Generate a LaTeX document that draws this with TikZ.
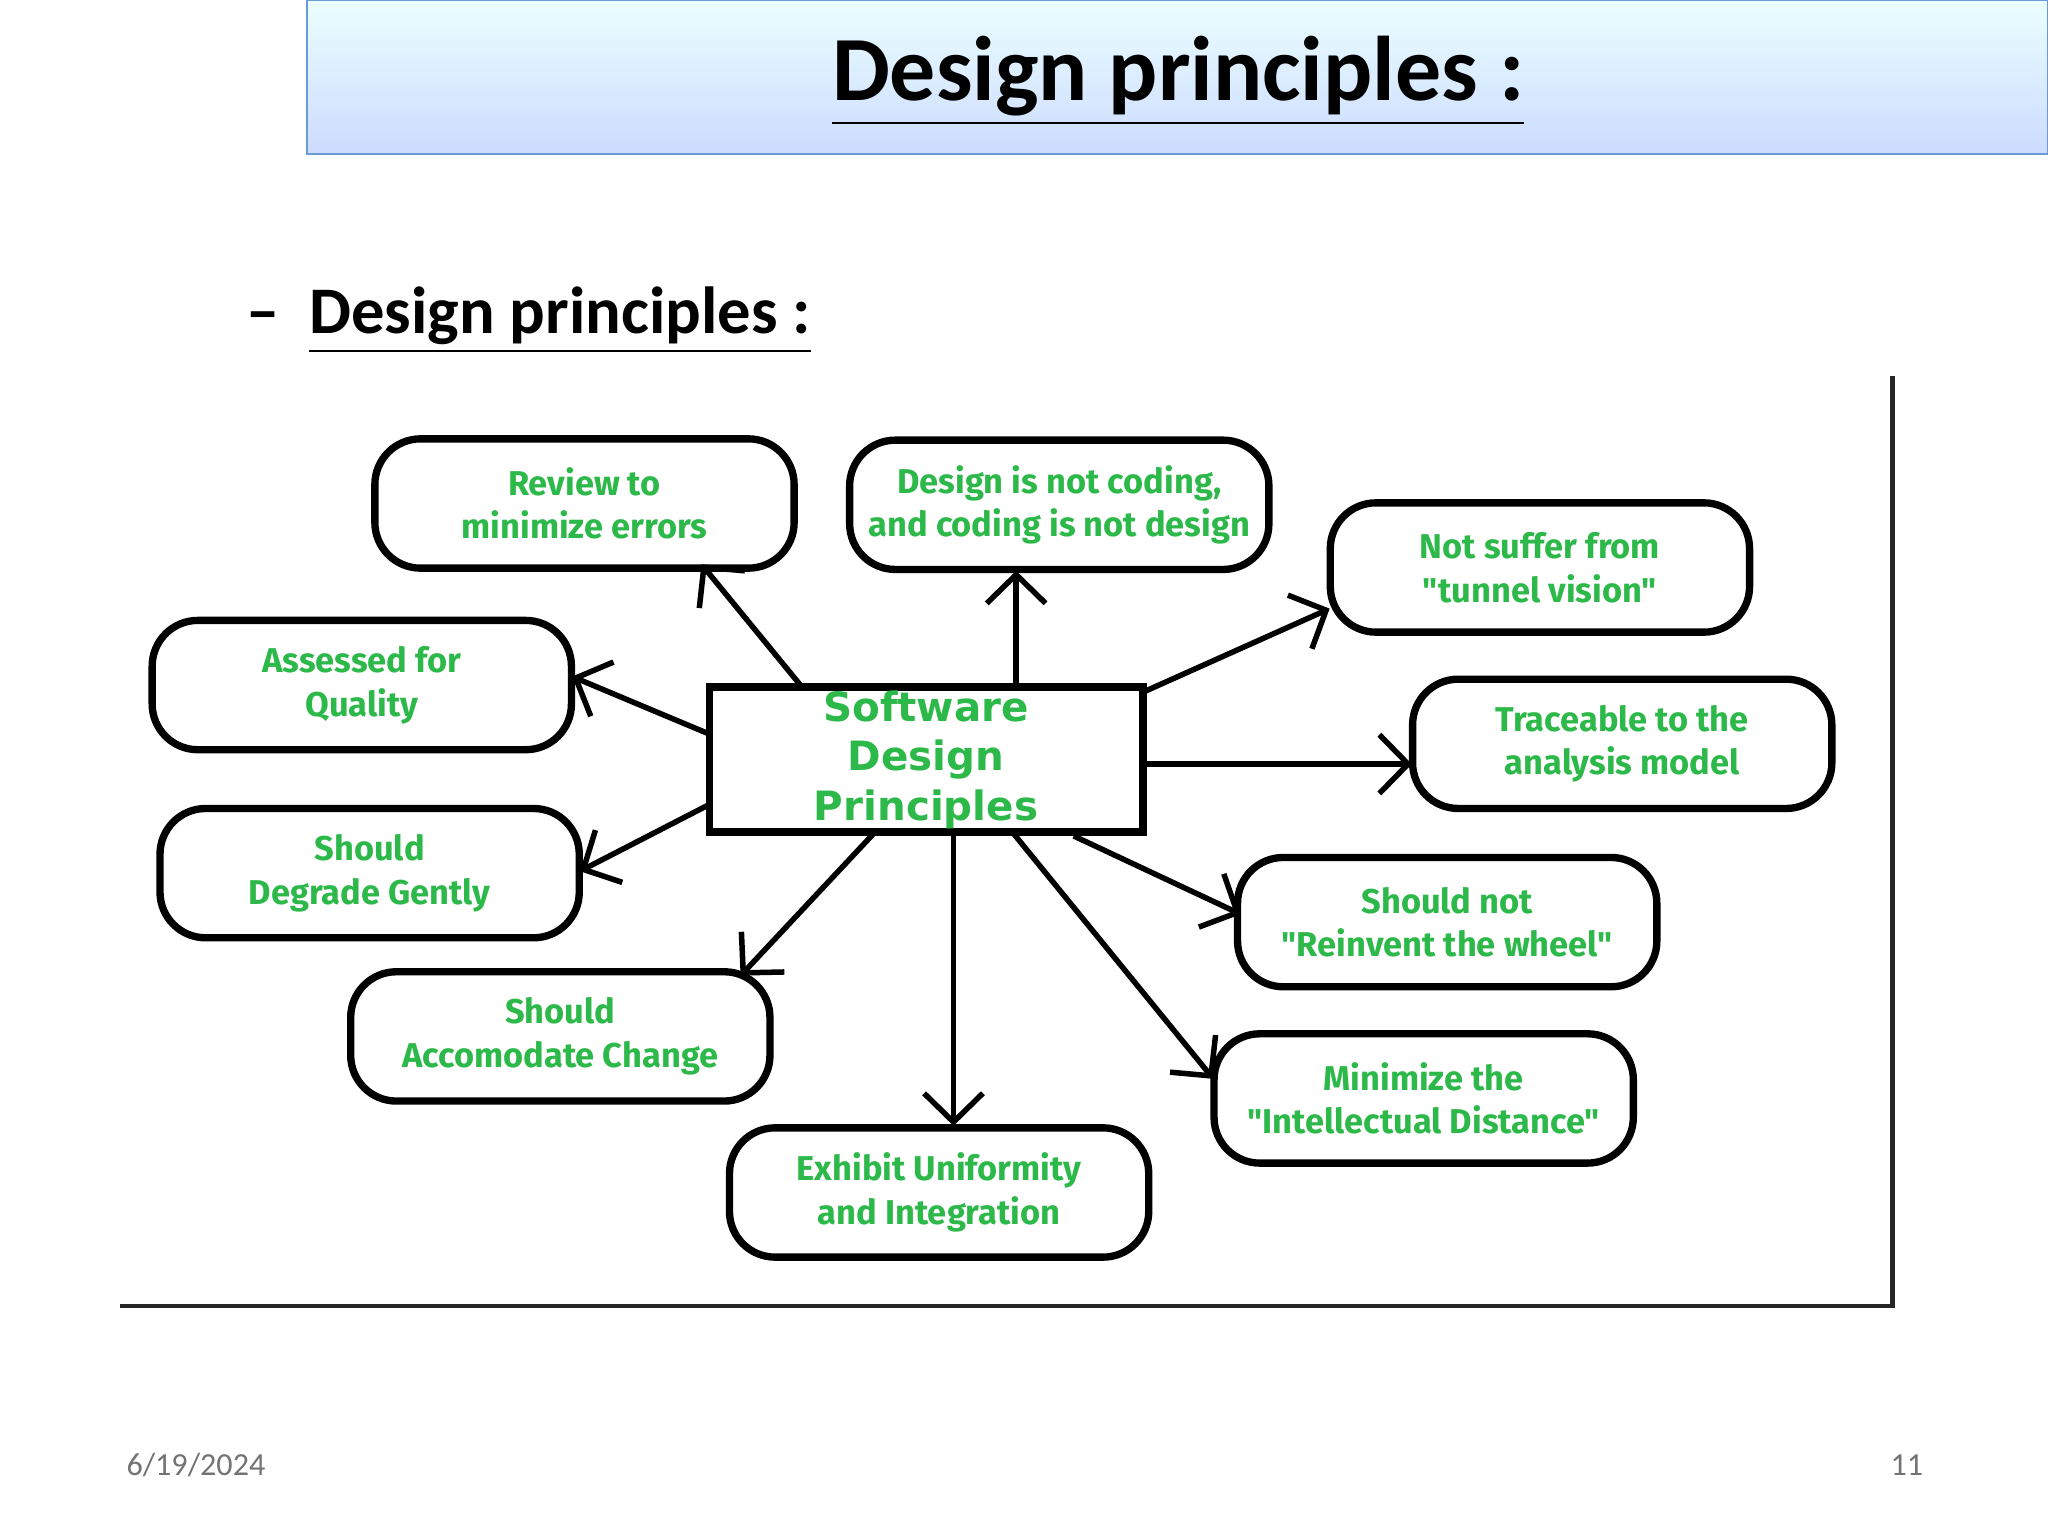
\documentclass[tikz,border=0pt]{standalone}
\usepackage{fontspec}
\setmainfont{Carlito}
\newfontfamily\boxfont{Fira Sans}
\newfontfamily\ctrfont{DejaVu Sans}
\usetikzlibrary{arrows.meta}
\definecolor{tg}{HTML}{2DB84A}
\tikzset{
 pbox/.style={draw=black,line width=1.6pt,rounded corners=3.5mm,minimum width=3.21cm,minimum height=0.99cm,align=center,text=tg,font=\boxfont\bfseries\fontsize{7.5}{9.5}\selectfont},
 ctr/.style={draw=black,line width=1.6pt,minimum width=3.32cm,minimum height=1.11cm,inner sep=0pt,align=center,text=tg,font=\ctrfont\bfseries\fontsize{8.8}{10.8}\selectfont},
 arr/.style={line width=1.2pt,-{Straight Barb[length=2.2mm,width=4.5mm]}}
}
\begin{document}
\begin{tikzpicture}
\useasboundingbox (0,0) rectangle (15.68,-11.76);
\shade[top color=cyan!8,bottom color=cyan!30!blue!20!white,draw=cyan!50!blue!60] (2.35,0) rectangle (15.68,-1.18);
\node (title) at (9.02,-0.62) {\fontsize{20}{24}\selectfont\bfseries\underline{Design principles :}};
\node[anchor=west] (sub) at (1.76,-2.45) {\fontsize{14.5}{17}\selectfont\bfseries --\hspace{0.45em}\underline{Design principles :}};
\draw[line width=1pt,black!85] (0.92,-10.00) -- (14.49,-10.00) -- (14.49,-2.88);
\node[ctr] (c) at (7.09,-5.815) {Software\\Design\\Principles};
\node[pbox] (b1) at (4.475,-3.855) {Review to\\minimize errors};
\node[pbox] (b2) at (8.11,-3.865) {Design is not coding,\\and coding is not design};
\node[pbox] (b3) at (11.79,-4.345) {Not suffer from\\"tunnel vision"};
\node[pbox] (b4) at (2.77,-5.245) {Assessed for\\Quality};
\node[pbox] (b5) at (12.42,-5.695) {Traceable to the\\analysis model};
\node[pbox] (b6) at (2.83,-6.685) {Should\\Degrade Gently};
\node[pbox] (b7) at (11.08,-7.06) {Should not\\"Reinvent the wheel"};
\node[pbox] (b8) at (4.29,-7.935) {Should\\Accomodate Change};
\node[pbox] (b9) at (10.90,-8.41) {Minimize the\\"Intellectual Distance"};
\node[pbox] (b10) at (7.19,-9.13) {Exhibit Uniformity\\and Integration};
\coordinate (s1) at (6.14,-5.26); \coordinate (e1) at (5.37,-4.32);
\coordinate (s2) at (7.78,-5.26); \coordinate (e2) at (7.78,-4.37);
\coordinate (s3) at (8.75,-5.30); \coordinate (e3) at (10.18,-4.66);
\coordinate (s4) at (5.43,-5.62); \coordinate (e4) at (4.38,-5.18);
\coordinate (s5) at (8.75,-5.85); \coordinate (e5) at (10.81,-5.85);
\coordinate (s6) at (5.43,-6.16); \coordinate (e6) at (4.44,-6.67);
\coordinate (s7) at (8.22,-6.40); \coordinate (e7) at (9.50,-7.00);
\coordinate (s8) at (6.70,-6.37); \coordinate (e8) at (5.67,-7.47);
\coordinate (s9) at (7.75,-6.37); \coordinate (e9) at (9.29,-8.26);
\coordinate (s10) at (7.30,-6.37); \coordinate (e10) at (7.30,-8.62);
\foreach \i in {1,...,10} {\draw[arr] (s\i) -- (e\i);}
\node[text=black!55] (d) at (1.50,-11.22) {\fontsize{7}{8}\selectfont 6/19/2024};
\node[text=black!55] (n) at (14.60,-11.22) {\fontsize{7}{8}\selectfont 11};
\end{tikzpicture}
\end{document}
